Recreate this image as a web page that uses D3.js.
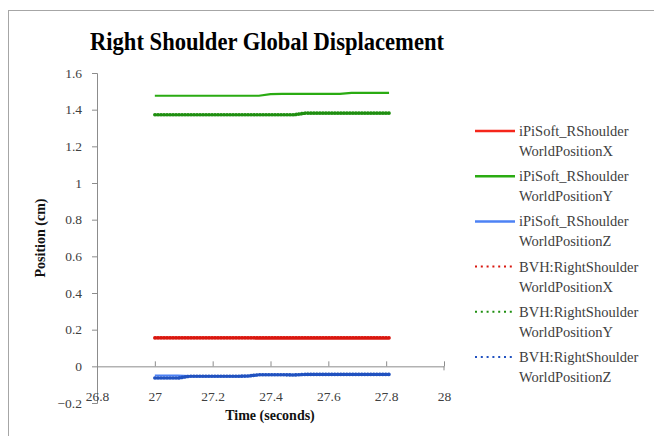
<!DOCTYPE html>
<html>
<head>
<meta charset="utf-8">
<script src="https://cdn.jsdelivr.net/npm/d3@7"></script>
<style>
  html, body { margin: 0; padding: 0; background: #fff; }
  svg { display: block; }
</style>
</head>
<body>
<svg id="chart" width="654" height="436"></svg>
<script>
// Sample times (seconds)
const times = [27.00, 27.04, 27.08, 27.12, 27.16, 27.20, 27.24, 27.28, 27.32, 27.36,
               27.40, 27.44, 27.48, 27.52, 27.56, 27.60, 27.64, 27.68, 27.72, 27.76, 27.81];

// Right shoulder world positions per series
const ipiX = [0.157, 0.157, 0.157, 0.157, 0.157, 0.157, 0.157, 0.157, 0.157, 0.157,
              0.157, 0.157, 0.157, 0.157, 0.157, 0.157, 0.157, 0.157, 0.157, 0.157, 0.155];
const ipiY = [1.476, 1.476, 1.476, 1.476, 1.476, 1.476, 1.476, 1.476, 1.476, 1.476,
              1.485, 1.486, 1.486, 1.486, 1.486, 1.486, 1.486, 1.492, 1.492, 1.492, 1.492];
const ipiZ = [-0.050, -0.050, -0.050, -0.053, -0.053, -0.053, -0.053, -0.053, -0.053, -0.047,
              -0.047, -0.047, -0.047, -0.046, -0.046, -0.046, -0.046, -0.046, -0.046, -0.046, -0.046];
const bvhX = [0.155, 0.155, 0.155, 0.155, 0.155, 0.155, 0.155, 0.155, 0.155, 0.155,
              0.155, 0.155, 0.155, 0.155, 0.155, 0.155, 0.155, 0.155, 0.155, 0.155, 0.155];
const bvhY = [1.372, 1.372, 1.372, 1.372, 1.372, 1.372, 1.372, 1.372, 1.372, 1.372,
              1.372, 1.372, 1.372, 1.381, 1.381, 1.381, 1.381, 1.381, 1.381, 1.381, 1.381];
const bvhZ = [-0.064, -0.064, -0.064, -0.054, -0.054, -0.054, -0.054, -0.054, -0.053, -0.046,
              -0.046, -0.046, -0.047, -0.044, -0.044, -0.044, -0.044, -0.044, -0.044, -0.044, -0.044];

// Axis ticks
const xTicks = [26.8, 27, 27.2, 27.4, 27.6, 27.8, 28];
const yTicks = [-0.2, 0, 0.2, 0.4, 0.6, 0.8, 1, 1.2, 1.4, 1.6];

// Series names and colours
const seriesNames = [
  ["iPiSoft_RShoulder", "WorldPositionX"],
  ["iPiSoft_RShoulder", "WorldPositionY"],
  ["iPiSoft_RShoulder", "WorldPositionZ"],
  ["BVH:RightShoulder", "WorldPositionX"],
  ["BVH:RightShoulder", "WorldPositionY"],
  ["BVH:RightShoulder", "WorldPositionZ"]
];
const seriesValues = [ipiX, ipiY, ipiZ, bvhX, bvhY, bvhZ];
const seriesColors = ["#f5261b", "#2aab12", "#4d82f5", "#d9170f", "#1f8f10", "#2152c0"];
const seriesDotted = [false, false, false, true, true, true];

const serif = "'Liberation Serif', 'DejaVu Serif', serif";
const svg = d3.select("#chart");

// Outer chart frame
svg.append("rect")
  .attr("x", 8.5).attr("y", 10.5)
  .attr("width", 660).attr("height", 440)
  .attr("fill", "#fff").attr("stroke", "#a6a6a6").attr("stroke-width", 1);

const x = d3.scaleLinear().domain([26.8, 28]).range([97, 444]);
const y = d3.scaleLinear().domain([-0.2, 1.6]).range([403, 73]);

const axisColor = "#8c8c8c";
const labelColor = "#404040";

// Y axis
const yAxis = svg.append("g").attr("transform", `translate(${x(26.8)},0)`)
  .call(d3.axisLeft(y).tickValues(yTicks).tickSize(5).tickPadding(10)
    .tickFormat(d => d3.format("")(+d.toFixed(1))));
yAxis.attr("font-family", null);
yAxis.select(".domain").attr("stroke", axisColor);
yAxis.selectAll(".tick line").attr("stroke", axisColor);
yAxis.selectAll(".tick text")
  .attr("fill", labelColor).attr("font-size", 13.5)
  .style("font-family", serif);

// X axis crossing at zero
const xAxis = svg.append("g").attr("transform", `translate(0,${y(0)})`)
  .call(d3.axisBottom(x).tickValues(xTicks).tickSizeInner(-5).tickSizeOuter(0).tickPadding(25)
    .tickFormat(d => d3.format("")(+d.toFixed(1))));
xAxis.attr("font-family", null);
xAxis.select(".domain").attr("stroke", axisColor);
xAxis.selectAll(".tick line").attr("stroke", axisColor);
xAxis.selectAll(".tick text")
  .attr("fill", labelColor).attr("font-size", 13.5)
  .style("font-family", serif);
// end tick on the right hangs below the axis
xAxis.append("line")
  .attr("x1", x(28)).attr("x2", x(28)).attr("y1", 0).attr("y2", 4)
  .attr("stroke", axisColor);

// Series lines
const line = d3.line().x((d, i) => x(times[i])).y(d => y(d));
seriesValues.forEach((vals, i) => {
  const p = svg.append("path")
    .datum(vals)
    .attr("d", line)
    .attr("fill", "none")
    .attr("stroke", seriesColors[i]);
  if (seriesDotted[i]) {
    p.attr("stroke-width", 3.6)
     .attr("stroke-linecap", "round")
     .attr("stroke-dasharray", "0.4 2.6");
  } else {
    p.attr("stroke-width", 2.2);
  }
});

// Title
svg.append("text")
  .attr("x", 267).attr("y", 50)
  .attr("text-anchor", "middle")
  .attr("font-size", 26).attr("font-weight", "bold")
  .attr("fill", "#000")
  .style("font-family", serif)
  .attr("textLength", 354).attr("lengthAdjust", "spacingAndGlyphs")
  .text("Right Shoulder Global Displacement");

// Axis titles
svg.append("text")
  .attr("x", 270).attr("y", 420)
  .attr("text-anchor", "middle")
  .attr("font-size", 14).attr("font-weight", "bold").attr("fill", "#111")
  .style("font-family", serif)
  .text("Time (seconds)");

svg.append("text")
  .attr("transform", "translate(45,238) rotate(-90)")
  .attr("text-anchor", "middle")
  .attr("font-size", 14).attr("font-weight", "bold").attr("fill", "#111")
  .style("font-family", serif)
  .text("Position (cm)");

// Legend
const legendY = d3.scaleLinear().domain([0, 5]).range([131, 357]);
seriesNames.forEach((names, i) => {
  const g = svg.append("g").attr("transform", `translate(0,${legendY(i)})`);
  const l = g.append("line")
    .attr("x1", 475).attr("x2", 515).attr("y1", 0).attr("y2", 0)
    .attr("stroke", seriesColors[i]);
  if (seriesDotted[i]) {
    l.attr("stroke-width", 2).attr("stroke-dasharray", "2 3.8");
  } else {
    l.attr("stroke-width", 2.5);
  }
  names.forEach((nm, k) => {
    g.append("text")
      .attr("x", 519).attr("y", 5 + k * 20)
      .attr("font-size", 14.5).attr("fill", labelColor)
      .style("font-family", serif)
      .text(nm);
  });
});
</script>
</body>
</html>
